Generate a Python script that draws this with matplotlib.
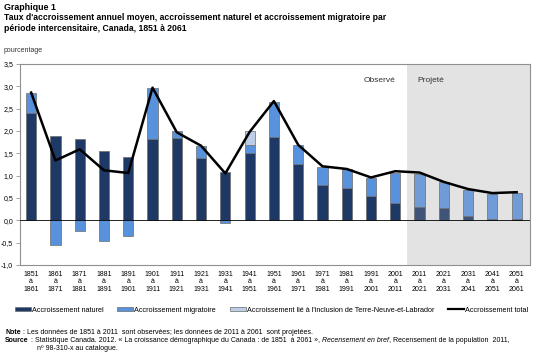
import numpy as np
import matplotlib
matplotlib.use("Agg")
import matplotlib.pyplot as plt
from matplotlib.patches import Patch
from matplotlib.lines import Line2D

plt.rcParams['font.family'] = ['Liberation Sans', 'DejaVu Sans']

# periods (start year, end year)
starts = ["1851", "1861", "1871", "1881", "1891", "1901", "1911", "1921", "1931", "1941", "1951",
          "1961", "1971", "1981", "1991", "2001", "2011", "2021", "2031", "2041", "2051"]
ends = ["1861", "1871", "1881", "1891", "1901", "1911", "1921", "1931", "1941", "1951", "1961",
        "1971", "1981", "1991", "2001", "2011", "2021", "2031", "2041", "2051", "2061"]

# average annual rates (%)
naturel = [2.41, 1.89, 1.81, 1.56, 1.41, 1.81, 1.85, 1.39, 1.09, 1.51, 1.87,
           1.27, 0.78, 0.73, 0.54, 0.39, 0.30, 0.27, 0.10, 0.02, 0.03]
migratoire = [0.44, -0.56, -0.23, -0.47, -0.35, 1.15, 0.14, 0.28, -0.06, 0.18, 0.78,
              0.42, 0.41, 0.41, 0.41, 0.68, 0.74, 0.58, 0.57, 0.58, 0.58]
terre_neuve = [0, 0, 0, 0, 0, 0, 0, 0, 0, 0.30, 0,
               0, 0, 0, 0, 0, 0, 0, 0, 0, 0]
total = [2.86, 1.34, 1.59, 1.12, 1.06, 2.97, 1.97, 1.67, 1.05, 1.98, 2.67,
         1.69, 1.21, 1.15, 0.96, 1.10, 1.07, 0.86, 0.70, 0.61, 0.63]

yticks = [-1.0, -0.5, 0.0, 0.5, 1.0, 1.5, 2.0, 2.5, 3.0, 3.5]
ytick_labels = ["-1,0", "-0,5", "0,0", "0,5", "1,0", "1,5", "2,0", "2,5", "3,0", "3,5"]
n_observed = 16  # periods up to 2001-2011 are observed

W, H = 551, 357
def fx(x):
    return x / W
def fy(y):
    return 1 - y / H

fig = plt.figure(figsize=(W / 100, H / 100), dpi=100)
ax = fig.add_axes([fx(20), fy(265), fx(530) - fx(20), fy(64) - fy(265)])

x = np.arange(len(starts))
nat = np.array(naturel)
mig = np.array(migratoire)
nl = np.array(terre_neuve)
proj = x >= n_observed

c_nat = np.where(proj, '#3f5476', '#1f3966')
c_mig = np.where(proj, '#6f9bd6', '#5892dc')
c_nl = '#bccfe6'

ax.axvspan(n_observed - 0.5, 20.6, color='#e3e3e3', zorder=0, lw=0)

bw = 0.42
ax.bar(x, nat, bw, color=c_nat, edgecolor='#6b6b6b', lw=0.5, zorder=2)
mig_bottom = np.where(mig >= 0, nat, 0)
ax.bar(x, mig, bw, bottom=mig_bottom, color=c_mig, edgecolor='#6b6b6b', lw=0.5, zorder=2)
nl_mask = nl > 0
ax.bar(x[nl_mask], nl[nl_mask], bw, bottom=(nat + mig)[nl_mask], color=c_nl,
       edgecolor='#6b6b6b', lw=0.5, zorder=2)
ax.plot(x, total, color='black', lw=1.8, zorder=4, solid_joinstyle='round')
ax.axhline(0, color='black', lw=0.6, zorder=3)

ax.set_xlim(-0.46, 20.55)
ax.set_ylim(-1.0, 3.5)
ax.set_yticks(yticks)
ax.set_yticklabels(ytick_labels)
ax.set_xticks(x)
ax.set_xticklabels([f"{s}\nà\n{e}" for s, e in zip(starts, ends)], linespacing=1.15)
ax.tick_params(axis='y', labelsize=5, length=3, width=0.5, color='#808080', pad=2)
ax.tick_params(axis='x', labelsize=5, length=0, pad=4)
for sp in ax.spines.values():
    sp.set_color('#909090')
    sp.set_linewidth(0.8)

fig.text(fx(380), fy(81), "Observé", fontsize=6, ha='center', va='center', color='#333333')
fig.text(fx(431), fy(81), "Projeté", fontsize=6, ha='center', va='center', color='#333333')

# titles
fig.text(fx(4), fy(7), "Graphique 1", fontsize=6.4, fontweight='bold', va='center')
fig.text(fx(4), fy(17), "Taux d'accroissement annuel moyen, accroissement naturel et accroissement migratoire par",
         fontsize=6.2, fontweight='bold', va='center')
fig.text(fx(4), fy(28.5), "période intercensitaire, Canada, 1851 à 2061",
         fontsize=6.2, fontweight='bold', va='center')
fig.text(fx(4), fy(51), "pourcentage", fontsize=5, va='center', color='#333333')

# legend
handles = [Patch(facecolor='#1f3966', edgecolor='#6b6b6b', lw=0.5),
           Patch(facecolor='#5892dc', edgecolor='#6b6b6b', lw=0.5),
           Patch(facecolor=c_nl, edgecolor='#6b6b6b', lw=0.5),
           Line2D([], [], color='black', lw=1.6)]
labels = ["Accroissement naturel", "Accroissement migratoire",
          "Accroissement lié à l'inclusion de Terre-Neuve-et-Labrador", "Accroissement total"]
fig.legend(handles, labels, loc='center left', bbox_to_anchor=(fx(15), fy(310)), ncol=4,
           frameon=False, fontsize=5.2, handlelength=2.2, handleheight=0.5,
           handletextpad=0.15, columnspacing=1.9, borderpad=0, borderaxespad=0)

# notes
t = fig.text(fx(5), fy(333), "Note", fontsize=5, fontweight='bold', va='center')
ax.annotate(" : Les données de 1851 à 2011  sont observées; les données de 2011 à 2061  sont projetées.",
            xy=(1, 0.5), xycoords=t, fontsize=5, va='center', ha='left', annotation_clip=False)
s = fig.text(fx(5), fy(341), "Source", fontsize=5, fontweight='bold', va='center')
s2 = ax.annotate(" : Statistique Canada. 2012. « La croissance démographique du Canada : de 1851  à 2061 », ",
                 xy=(1, 0.5), xycoords=s, fontsize=5, va='center', ha='left', annotation_clip=False)
s3 = ax.annotate("Recensement en bref", xy=(1, 0.5), xycoords=s2, fontsize=5, style='italic',
                 va='center', ha='left', annotation_clip=False)
ax.annotate(", Recensement de la population  2011,", xy=(1, 0.5), xycoords=s3, fontsize=5,
            va='center', ha='left', annotation_clip=False)
fig.text(fx(37), fy(348), "nº 98-310-x au catalogue.", fontsize=5, va='center')

fig.savefig("out.png", dpi=100)
